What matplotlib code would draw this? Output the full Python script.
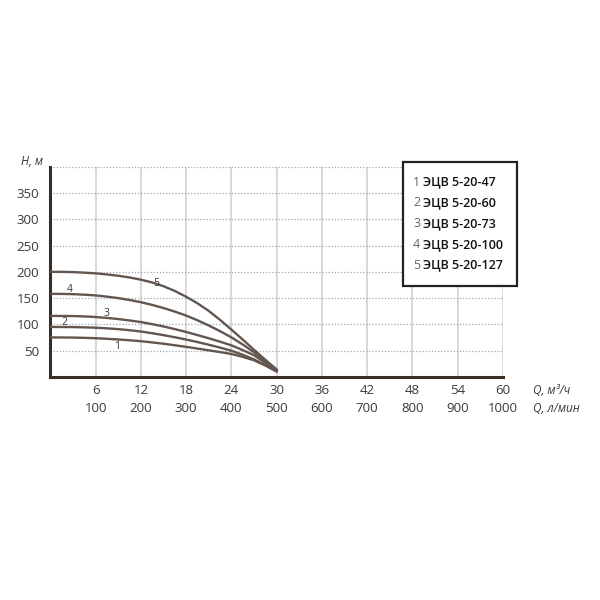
import matplotlib
matplotlib.use("Agg")
import matplotlib.pyplot as plt

# --- data (Q in m3/h, H in m) ---
q_m3h = [0, 1.5, 3, 4.5, 6, 7.5, 9, 10.5, 12, 13.5, 15, 16.5, 18, 19.5, 21, 22.5, 24, 25.5, 27, 28.5, 30]
head_1 = [75, 74.9, 74.7, 74.2, 73.5, 72.4, 71.1, 69.6, 67.8, 65.5, 63, 60.1, 57, 53.8, 50.4, 47.1, 43.5, 38, 31.5, 21.5, 10]
head_2 = [95, 94.9, 94.7, 94.2, 93.5, 92.3, 90.8, 88.7, 86.3, 83, 79.4, 75.3, 71, 66.2, 61.1, 55.6, 49.7, 42, 33.2, 22.5, 11]
head_3 = [116, 115.9, 115.7, 115, 113.9, 112.1, 110, 107.3, 104.3, 100.3, 95.9, 90.8, 85.4, 79.5, 73.4, 66.9, 59.9, 51, 41, 27, 12]
head_4 = [158, 157.9, 157.4, 156.4, 155, 152.7, 149.9, 146.3, 142.1, 136.9, 131, 124.2, 116.6, 107.7, 97.7, 86.9, 75.2, 61.6, 46.7, 30, 12.5]
head_5 = [200, 199.9, 199.4, 198.4, 197, 195, 192.5, 189.2, 185, 179.6, 172.5, 163.5, 152.5, 140, 125.5, 108.5, 90, 71, 51.5, 32.5, 14]
curves = [head_1, head_2, head_3, head_4, head_5]

models = ["ЭЦВ 5-20-47", "ЭЦВ 5-20-60", "ЭЦВ 5-20-73", "ЭЦВ 5-20-100", "ЭЦВ 5-20-127"]
# where the little curve numbers sit (Q, H)
label_pos = [(8.8, 57), (1.9, 104), (7.5, 120), (2.6, 167), (14.1, 177)]

x_ticks = [6, 12, 18, 24, 30, 36, 42, 48, 54, 60]
lmin_ticks = [100, 200, 300, 400, 500, 600, 700, 800, 900, 1000]
y_ticks = [50, 100, 150, 200, 250, 300, 350]

FONT = ["Open Sans", "DejaVu Sans"]
plt.rcParams["font.family"] = FONT

curve_col = "#62564f"
spine_col = "#3b2c25"
text_col = "#3a3a3a"

fig = plt.figure(figsize=(6, 6), dpi=100)
ax = fig.add_axes([0.084, 0.372, 0.754, 0.35])

# grid
for x in x_ticks:
    ax.axvline(x, color="#d2d2d2", lw=1.2, zorder=0)
for y in y_ticks + [400]:
    ax.axhline(y, color="#a0a8b4", lw=0.9, ls=(0, (1, 1.5)), zorder=0)

for h in curves:
    ax.plot(q_m3h, h, color=curve_col, lw=1.7, zorder=3, solid_joinstyle="round")

for i, (qx, hy) in enumerate(label_pos):
    ax.text(qx, hy, str(i + 1), fontsize=7.5, color=text_col, ha="center", va="center", zorder=4)

ax.set_xlim(0, 60)
ax.set_ylim(0, 400)
ax.set_xticks(x_ticks)
ax.set_yticks(y_ticks)
ax.tick_params(length=0, labelsize=9.5, colors=text_col, pad=5)
ax.tick_params(axis="y", pad=8)

for s in ["top", "right"]:
    ax.spines[s].set_visible(False)
ax.spines["left"].set_color(spine_col)
ax.spines["left"].set_linewidth(2.2)
ax.spines["bottom"].set_color(spine_col)
ax.spines["bottom"].set_linewidth(2.2)

# second row: flow in l/min
sec = ax.secondary_xaxis("bottom", functions=(lambda q: q * 1000 / 60, lambda l: l * 60 / 1000))
sec.set_xticks(lmin_ticks)
sec.tick_params(length=0, labelsize=9.5, colors=text_col, pad=18.5)
sec.spines["bottom"].set_visible(False)

# axis captions
ax.text(-0.017, 1.024, "Н, м", transform=ax.transAxes, fontsize=8.5, style="italic",
        color=text_col, ha="right", va="center")
ax.text(1.066, -0.064, "Q, м³/ч", transform=ax.transAxes, fontsize=8.5, style="italic",
        color=text_col, ha="left", va="center")
ax.text(1.066, -0.152, "Q, л/мин", transform=ax.transAxes, fontsize=8.5, style="italic",
        color=text_col, ha="left", va="center")

# legend box
box = plt.Rectangle((403 / 600, 1 - 286 / 600), 114 / 600, 124 / 600, transform=fig.transFigure,
                    facecolor="white", edgecolor="#222222", lw=1.6, zorder=5)
fig.patches.append(box)
for i, m in enumerate(models):
    ypix = 182 + i * 20.8
    fig.text(413 / 600, 1 - ypix / 600, str(i + 1), fontsize=9, color="#666666", va="center", zorder=6)
    fig.text(423 / 600, 1 - ypix / 600, m, fontsize=9, fontweight="semibold", color="#111111",
             va="center", zorder=6)

fig.savefig("out.png", dpi=100)
